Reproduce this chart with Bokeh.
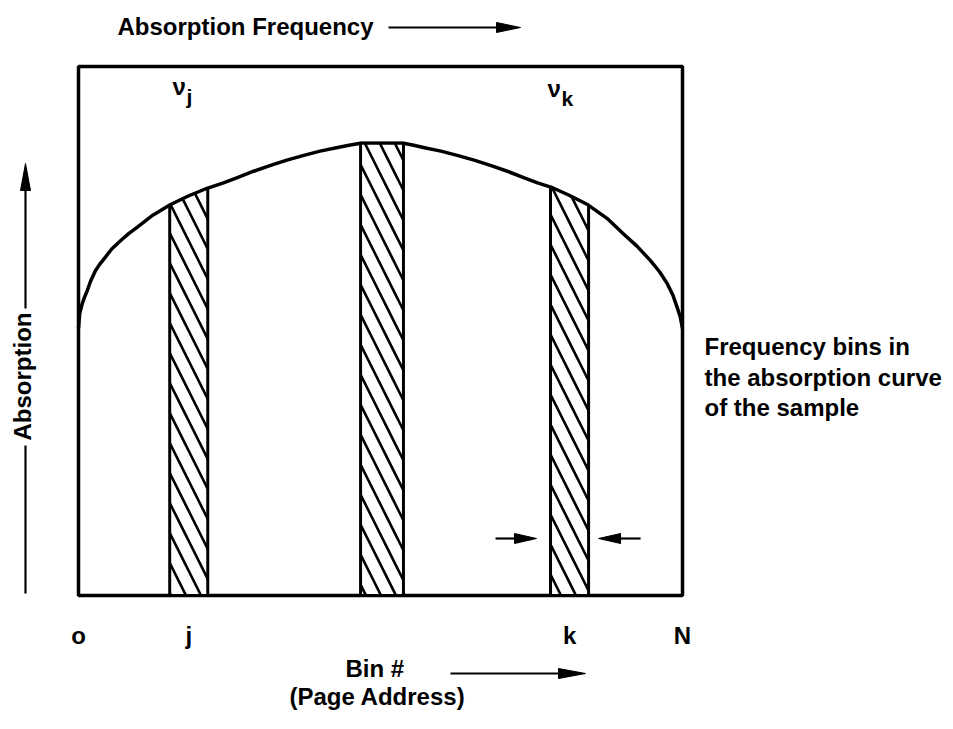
import numpy as np
from bokeh.plotting import figure
from bokeh.models import ColumnDataSource, Label, Range1d
from bokeh.embed import file_html
from bokeh.resources import INLINE
from bokeh.core.properties import value

# ---------------- data (diagram units: bin axis 0..100, absorption 0..100) -------------
curve_x = [0.0, 0.2, 0.6, 1.0, 1.4, 2.0, 2.8, 3.5, 4.2, 5.5, 7.0, 8.3, 9.7, 12.3, 15.1,
           18.2, 21.4, 24.0, 26.3, 29.0, 31.8, 34.5, 37.3, 40.0, 42.9, 44.8, 46.7,
           53.8, 55.5, 57.1, 60.0, 62.7, 65.5, 68.2, 71.0, 73.7, 76.0, 78.2, 81.3,
           84.4, 87.5, 90.2, 92.5, 94.7, 96.2, 97.5, 98.4, 99.1, 99.6, 100.0]
curve_y = [50.5, 53.3, 55.1, 56.4, 57.5, 59.4, 61.4, 62.6, 63.6, 65.5, 67.1, 68.4, 69.6,
           71.9, 73.8, 75.5, 77.0, 78.0, 79.0, 80.2, 81.3, 82.3, 83.2, 84.0, 84.7, 85.1,
           85.5, 85.5, 85.1, 84.7, 84.0, 83.2, 82.3, 81.3, 80.2, 79.0, 78.0, 77.2, 75.6,
           73.8, 71.3, 68.4, 66.0, 63.3, 61.2, 58.9, 56.8, 54.5, 52.8, 50.5]

bin_left = [15.1, 46.7, 78.15]
bin_right = [21.4, 53.8, 84.45]

tick_labels = ["o", "j", "k", "N"]
tick_pos = [0.0, 18.25, 81.3, 100.0]

box_left, box_right, box_bottom, box_top = 0.0, 100.0, 0.0, 100.0

# ---------------- layout -------------------------------------------------------------
W, H = 945, 721
FX0, FX1 = 78, 682          # page px of x=0 and x=100
FY0, FY1 = 595, 66          # page px (from top) of y=0 and y=100
SX = (FX1 - FX0) / 100.0
SY = (FY0 - FY1) / 100.0
x_start = -FX0 / SX
y_start = -(H - FY0) / SY

def dx(X):  # page px -> data x
    return (X - FX0) / SX

def dy(Y):  # page px -> data y
    return (FY0 - Y) / SY

def px(x):  # data x -> page px
    return FX0 + x * SX

FONT = "Liberation Sans"

p = figure(width=W, height=H, output_backend="svg", toolbar_location=None,
           x_range=Range1d(x_start, x_start + W / SX),
           y_range=Range1d(y_start, y_start + H / SY),
           x_axis_location=None, y_axis_location=None, min_border=0,
           outline_line_color=None, background_fill_color="white",
           border_fill_color="white")
p.grid.visible = False

# box
p.quad(left=[box_left], right=[box_right], bottom=[box_bottom], top=[box_top],
       fill_color=None, line_color="black", line_width=3.5)

# absorption curve
p.line(curve_x, curve_y, line_color="black", line_width=3.5, line_join="round")

# hatched frequency bins, top edge following the curve
xs, ys = [], []
for l, r in zip(bin_left, bin_right):
    inner = [(cx, cy) for cx, cy in zip(curve_x, curve_y) if l < cx < r]
    yl = float(np.interp(l, curve_x, curve_y))
    yr = float(np.interp(r, curve_x, curve_y))
    xs.append([l, l] + [c[0] for c in inner] + [r, r])
    ys.append([0, yl] + [c[1] for c in inner] + [yr, 0])
p.patches(xs, ys, fill_color="white", line_color="black", line_width=3,
          hatch_pattern="\\", hatch_scale=30, hatch_weight=2.6, hatch_color="black")

# arrows (page px geometry)
def arrow(x0, y0, x1, y1, L=23, hw=5, lw=2.2):
    v = np.array([x1 - x0, y1 - y0], dtype=float)
    u = v / np.hypot(*v)
    n = np.array([-u[1], u[0]])
    b = np.array([x1, y1]) - L * u
    p.line([dx(x0), dx(b[0] + 2 * u[0])], [dy(y0), dy(b[1] + 2 * u[1])],
           line_color="black", line_width=lw)
    tri = [np.array([x1, y1]), b + hw * n, b - hw * n]
    p.patch([dx(t[0]) for t in tri], [dy(t[1]) for t in tri], color="black")

arrow(388, 27, 520, 27, L=24, hw=5)                 # absorption frequency
arrow(450, 673, 585, 673, L=27, hw=5)               # bin #
arrow(25, 308, 25, 163, L=27, hw=5)                 # absorption (up)
p.line([dx(25), dx(25)], [dy(445), dy(593)], line_color="black", line_width=2.2)
kl, kr = px(bin_left[2]), px(bin_right[2])
arrow(kl - 55, 538, kl - 14, 538, L=22, hw=5)
arrow(kr + 52, 538, kr + 10, 538, L=22, hw=5)

def label(text, X, Y, size="24px", align="left", baseline="alphabetic", angle=0.0):
    p.add_layout(Label(x=dx(X), y=dy(Y), text=text, text_font=FONT,
                       text_font_size=size, text_font_style="bold",
                       text_color="black", text_align=align,
                       text_baseline=baseline, angle=angle))

label("Absorption Frequency", 117, 26)
label("\u03bd", 172, 86)
label("j", 186, 96, size="21px")
label("\u03bd", 547, 88)
label("k", 561, 98, size="21px")
label("Bin #", 345, 668)
label("(Page Address)", 377, 696, align="center")
label("Frequency bins in", 704, 346)
label("the absorption curve", 704, 377)
label("of the sample", 704, 407)
label("Absorption", 22, 376, align="center", baseline="middle", angle=np.pi / 2)

# bin tick labels
src = ColumnDataSource(dict(x=tick_pos, y=[dy(635)] * len(tick_pos), t=tick_labels))
p.text(x="x", y="y", text="t", source=src, text_font=value(FONT),
       text_font_size="24px", text_font_style="bold", text_align="center",
       text_baseline="alphabetic", text_color="black")

open("out.html", "w").write(file_html(p, INLINE))
